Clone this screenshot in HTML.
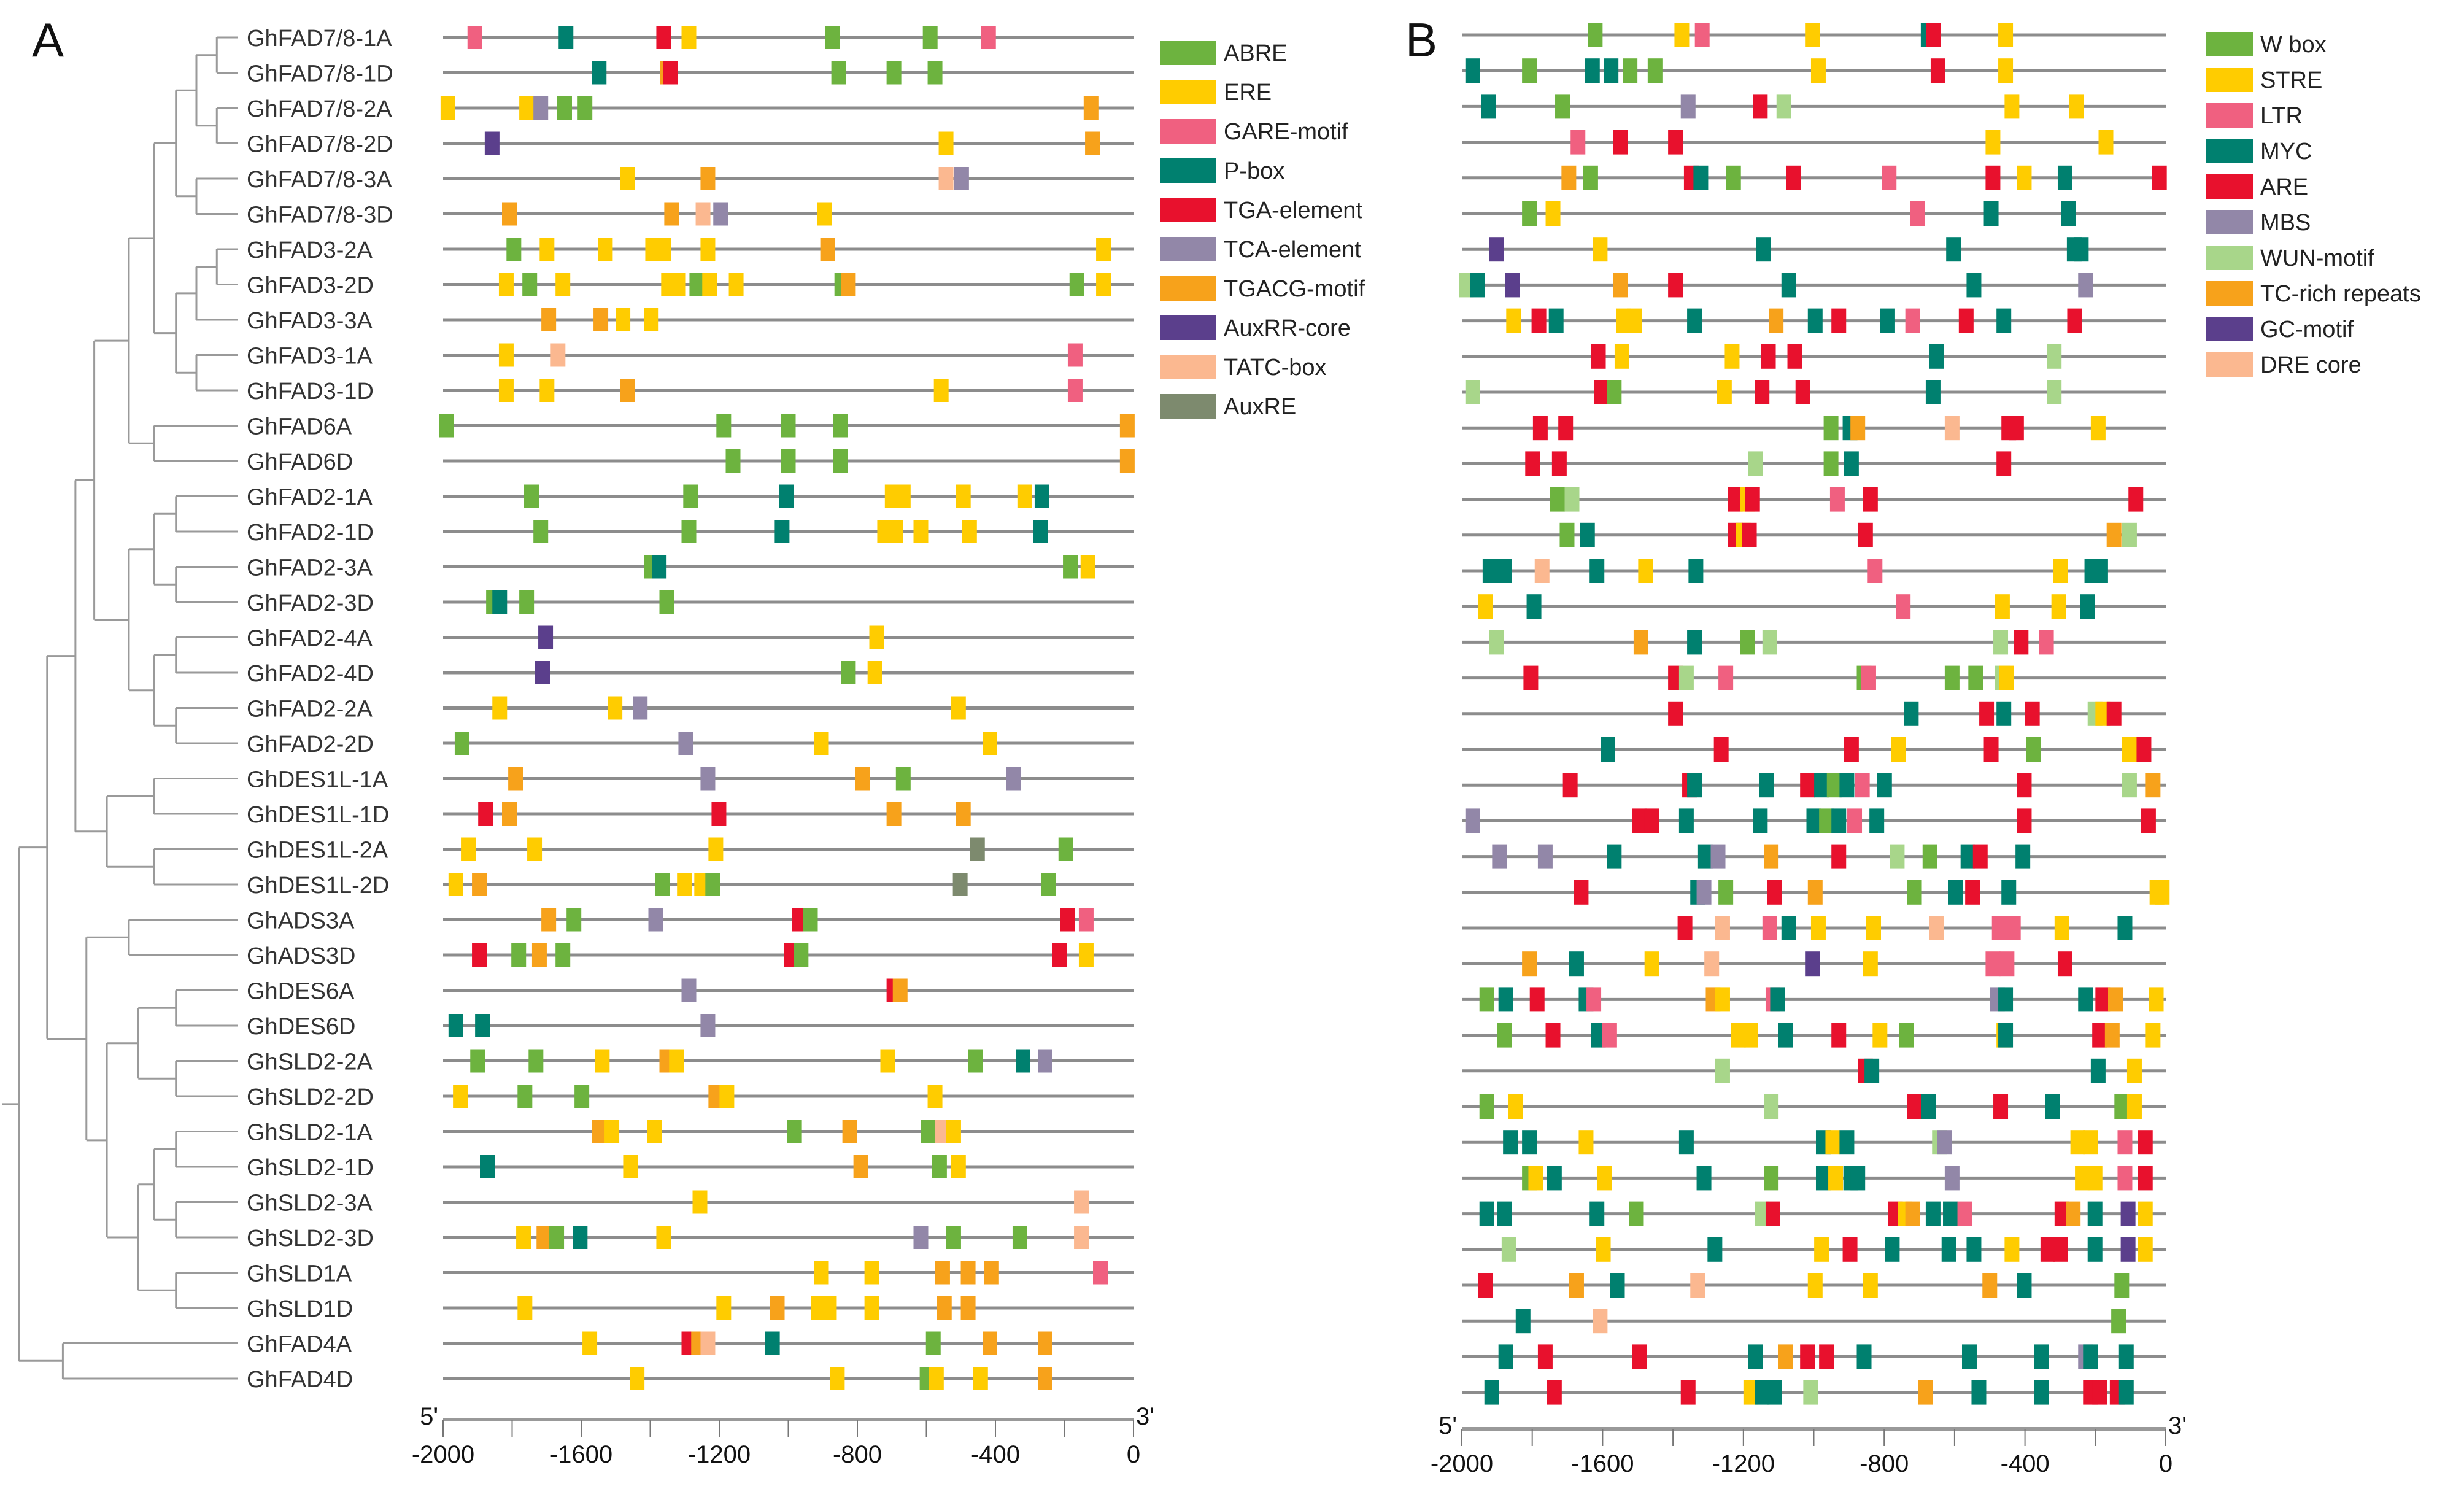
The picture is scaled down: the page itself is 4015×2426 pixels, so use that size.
<!DOCTYPE html>
<html><head><meta charset="utf-8"><style>
html,body{margin:0;padding:0;background:#fff;}
svg{display:block;font-family:"Liberation Sans",Arial,sans-serif;}
</style></head><body>
<svg id="fig" width="4015" height="2426" viewBox="0 0 4015 2426" xmlns="http://www.w3.org/2000/svg">
<text x="52" y="92" font-size="78" fill="#111">A</text>
<text x="2290" y="92" font-size="78" fill="#111">B</text>
<g id="gA"></g>
<g id="gB"></g>
</svg>
<script>
const genes = ["GhFAD7/8-1A","GhFAD7/8-1D","GhFAD7/8-2A","GhFAD7/8-2D","GhFAD7/8-3A","GhFAD7/8-3D","GhFAD3-2A","GhFAD3-2D","GhFAD3-3A","GhFAD3-1A","GhFAD3-1D","GhFAD6A","GhFAD6D","GhFAD2-1A","GhFAD2-1D","GhFAD2-3A","GhFAD2-3D","GhFAD2-4A","GhFAD2-4D","GhFAD2-2A","GhFAD2-2D","GhDES1L-1A","GhDES1L-1D","GhDES1L-2A","GhDES1L-2D","GhADS3A","GhADS3D","GhDES6A","GhDES6D","GhSLD2-2A","GhSLD2-2D","GhSLD2-1A","GhSLD2-1D","GhSLD2-3A","GhSLD2-3D","GhSLD1A","GhSLD1D","GhFAD4A","GhFAD4D"];
const tickLabels = ["-2000","-1600","-1200","-800","-400","0"];
const tickValues = [-2000,-1800,-1600,-1400,-1200,-1000,-800,-600,-400,-200,0];
const legendA = [["ab","ABRE"],["er","ERE"],["ga","GARE-motif"],["pb","P-box"],["tg","TGA-element"],["tc","TCA-element"],["tgacg","TGACG-motif"],["aux","AuxRR-core"],["ta","TATC-box"],["are","AuxRE"]];
const legendB = [["wb","W box"],["st","STRE"],["ltr","LTR"],["myc","MYC"],["ar","ARE"],["mbs","MBS"],["wun","WUN-motif"],["tcr","TC-rich repeats"],["gc","GC-motif"],["dre","DRE core"]];
const colors = {ab:"#6db33f",er:"#ffcc00",ga:"#f06080",pb:"#00806f",tg:"#e8112d",tc:"#9287a8",tgacg:"#f7a21b",aux:"#5b3f8c",ta:"#fbb890",are:"#7d8a6e",
 wb:"#6db33f",st:"#ffcc00",ltr:"#f06080",myc:"#00806f",ar:"#e8112d",mbs:"#9287a8",wun:"#a8d68a",tcr:"#f7a21b",gc:"#5b3f8c",dre:"#fbb890"};
const rowsA = [
[[-1908,"ga"],[-1644,"pb"],[-1361,"tg"],[-1288,"er"],[-872,"ab"],[-589,"ab"],[-420,"ga"]],
[[-1548,"pb"],[-1350,"tgacg"],[-1342,"tg"],[-854,"ab"],[-694,"ab"],[-575,"ab"]],
[[-1986,"er"],[-1758,"er"],[-1717,"tc"],[-1648,"ab"],[-1589,"ab"],[-123,"tgacg"]],
[[-1858,"aux"],[-543,"er"],[-119,"tgacg"]],
[[-1466,"er"],[-1233,"tgacg"],[-543,"ta"],[-498,"tc"]],
[[-1808,"tgacg"],[-1338,"tgacg"],[-1247,"ta"],[-1196,"tc"],[-895,"er"]],
[[-1795,"ab"],[-1699,"er"],[-1530,"er"],[-1393,"er"],[-1361,"er"],[-1233,"er"],[-886,"tgacg"],[-87,"er"]],
[[-1817,"er"],[-1749,"ab"],[-1653,"er"],[-1347,"er"],[-1320,"er"],[-1265,"ab"],[-1228,"er"],[-1151,"er"],[-845,"ab"],[-826,"tgacg"],[-164,"ab"],[-87,"er"]],
[[-1694,"tgacg"],[-1543,"tgacg"],[-1479,"er"],[-1397,"er"]],
[[-1817,"er"],[-1667,"ta"],[-169,"ga"]],
[[-1817,"er"],[-1699,"er"],[-1466,"tgacg"],[-557,"er"],[-169,"ga"]],
[[-1991,"ab"],[-1187,"ab"],[-1000,"ab"],[-849,"ab"],[-18,"tgacg"]],
[[-1160,"ab"],[-1000,"ab"],[-849,"ab"],[-18,"tgacg"]],
[[-1744,"ab"],[-1283,"ab"],[-1005,"pb"],[-699,"er"],[-667,"er"],[-493,"er"],[-315,"er"],[-265,"pb"]],
[[-1717,"ab"],[-1288,"ab"],[-1018,"pb"],[-721,"er"],[-689,"er"],[-616,"er"],[-475,"er"],[-269,"pb"]],
[[-1397,"ab"],[-1374,"pb"],[-183,"ab"],[-132,"er"]],
[[-1854,"ab"],[-1836,"pb"],[-1758,"ab"],[-1352,"ab"]],
[[-1703,"aux"],[-744,"er"]],
[[-1712,"aux"],[-826,"ab"],[-749,"er"]],
[[-1836,"er"],[-1502,"er"],[-1429,"tc"],[-507,"er"]],
[[-1945,"ab"],[-1297,"tc"],[-904,"er"],[-416,"er"]],
[[-1790,"tgacg"],[-1233,"tc"],[-785,"tgacg"],[-667,"ab"],[-347,"tc"]],
[[-1877,"tg"],[-1808,"tgacg"],[-1201,"tg"],[-694,"tgacg"],[-493,"tgacg"]],
[[-1927,"er"],[-1735,"er"],[-1210,"er"],[-452,"are"],[-196,"ab"]],
[[-1963,"er"],[-1895,"tgacg"],[-1365,"ab"],[-1301,"er"],[-1251,"er"],[-1219,"ab"],[-502,"are"],[-247,"ab"]],
[[-1694,"tgacg"],[-1621,"ab"],[-1384,"tc"],[-968,"tg"],[-936,"ab"],[-192,"tg"],[-137,"ga"]],
[[-1895,"tg"],[-1781,"ab"],[-1721,"tgacg"],[-1653,"ab"],[-991,"tg"],[-963,"ab"],[-215,"tg"],[-137,"er"]],
[[-1288,"tc"],[-694,"tg"],[-676,"tgacg"]],
[[-1963,"pb"],[-1886,"pb"],[-1233,"tc"]],
[[-1900,"ab"],[-1731,"ab"],[-1539,"er"],[-1352,"tgacg"],[-1324,"er"],[-712,"er"],[-457,"ab"],[-320,"pb"],[-256,"tc"]],
[[-1950,"er"],[-1763,"ab"],[-1598,"ab"],[-1210,"tgacg"],[-1178,"er"],[-575,"er"]],
[[-1548,"tgacg"],[-1511,"er"],[-1388,"er"],[-982,"ab"],[-822,"tgacg"],[-594,"ab"],[-553,"ta"],[-521,"er"]],
[[-1872,"pb"],[-1457,"er"],[-790,"tgacg"],[-562,"ab"],[-507,"er"]],
[[-1256,"er"],[-151,"ta"]],
[[-1767,"er"],[-1708,"tgacg"],[-1671,"ab"],[-1603,"pb"],[-1361,"er"],[-616,"tc"],[-521,"ab"],[-329,"ab"],[-151,"ta"]],
[[-904,"er"],[-758,"er"],[-553,"tgacg"],[-479,"tgacg"],[-411,"tgacg"],[-96,"ga"]],
[[-1763,"er"],[-1187,"er"],[-1032,"tgacg"],[-913,"er"],[-881,"er"],[-758,"er"],[-548,"tgacg"],[-479,"tgacg"]],
[[-1575,"er"],[-1288,"tg"],[-1260,"tgacg"],[-1233,"ta"],[-1046,"pb"],[-580,"ab"],[-416,"tgacg"],[-256,"tgacg"]],
[[-1438,"er"],[-858,"er"],[-598,"ab"],[-571,"er"],[-443,"er"],[-256,"tgacg"]]
];
const rowsB = [
[[-1621,"wb"],[-1375,"st"],[-1317,"ltr"],[-1004,"st"],[-675,"myc"],[-660,"ar"],[-455,"st"]],
[[-1969,"myc"],[-1808,"wb"],[-1629,"myc"],[-1576,"myc"],[-1522,"wb"],[-1451,"wb"],[-987,"st"],[-647,"ar"],[-455,"st"]],
[[-1924,"myc"],[-1714,"wb"],[-1357,"mbs"],[-1152,"ar"],[-1085,"wun"],[-437,"st"],[-254,"st"]],
[[-1670,"ltr"],[-1549,"ar"],[-1393,"ar"],[-491,"st"],[-170,"st"]],
[[-1696,"tcr"],[-1634,"wb"],[-1348,"ar"],[-1321,"myc"],[-1228,"wb"],[-1058,"ar"],[-786,"ltr"],[-491,"ar"],[-402,"st"],[-286,"myc"],[-18,"ar"]],
[[-1808,"wb"],[-1741,"st"],[-705,"ltr"],[-496,"myc"],[-277,"myc"]],
[[-1902,"gc"],[-1607,"st"],[-1143,"myc"],[-603,"myc"],[-260,"myc"],[-240,"myc"]],
[[-1987,"wun"],[-1955,"myc"],[-1857,"gc"],[-1549,"tcr"],[-1393,"ar"],[-1071,"myc"],[-545,"myc"],[-228,"mbs"]],
[[-1853,"st"],[-1781,"ar"],[-1732,"myc"],[-1540,"st"],[-1510,"st"],[-1339,"myc"],[-1107,"tcr"],[-996,"myc"],[-929,"ar"],[-790,"myc"],[-719,"ltr"],[-567,"ar"],[-460,"myc"],[-259,"ar"]],
[[-1612,"ar"],[-1545,"st"],[-1232,"st"],[-1129,"ar"],[-1054,"ar"],[-652,"myc"],[-317,"wun"]],
[[-1969,"wun"],[-1603,"ar"],[-1567,"wb"],[-1254,"st"],[-1147,"ar"],[-1031,"ar"],[-661,"myc"],[-317,"wun"]],
[[-1777,"ar"],[-1705,"ar"],[-951,"wb"],[-897,"myc"],[-875,"tcr"],[-607,"dre"],[-446,"ar"],[-424,"ar"],[-192,"st"]],
[[-1799,"ar"],[-1723,"ar"],[-1165,"wun"],[-951,"wb"],[-893,"myc"],[-460,"ar"]],
[[-1728,"wb"],[-1687,"wun"],[-1223,"ar"],[-1188,"st"],[-1174,"ar"],[-933,"ltr"],[-839,"ar"],[-85,"ar"]],
[[-1701,"wb"],[-1643,"myc"],[-1223,"ar"],[-1200,"st"],[-1183,"ar"],[-853,"ar"],[-147,"tcr"],[-103,"wun"]],
[[-1920,"myc"],[-1879,"myc"],[-1772,"dre"],[-1616,"myc"],[-1478,"st"],[-1335,"myc"],[-826,"ltr"],[-299,"st"],[-210,"myc"],[-185,"myc"]],
[[-1933,"st"],[-1795,"myc"],[-746,"ltr"],[-464,"st"],[-304,"st"],[-223,"myc"]],
[[-1902,"wun"],[-1491,"tcr"],[-1339,"myc"],[-1188,"wb"],[-1125,"wun"],[-469,"wun"],[-411,"ar"],[-339,"ltr"]],
[[-1804,"ar"],[-1393,"ar"],[-1362,"wun"],[-1250,"ltr"],[-857,"wb"],[-844,"ltr"],[-607,"wb"],[-540,"wb"],[-464,"wun"],[-452,"st"]],
[[-1393,"ar"],[-723,"myc"],[-509,"ar"],[-460,"myc"],[-379,"ar"],[-201,"wun"],[-179,"st"],[-147,"ar"]],
[[-1585,"myc"],[-1263,"ar"],[-893,"ar"],[-759,"st"],[-496,"ar"],[-375,"wb"],[-103,"st"],[-62,"ar"]],
[[-1692,"ar"],[-1353,"ar"],[-1339,"myc"],[-1134,"myc"],[-1018,"ar"],[-978,"myc"],[-942,"wb"],[-906,"myc"],[-862,"ltr"],[-799,"myc"],[-402,"ar"],[-103,"wun"],[-36,"tcr"]],
[[-1969,"mbs"],[-1496,"ar"],[-1460,"ar"],[-1362,"myc"],[-1152,"myc"],[-1000,"myc"],[-964,"wb"],[-929,"myc"],[-884,"ltr"],[-821,"myc"],[-402,"ar"],[-49,"ar"]],
[[-1893,"mbs"],[-1763,"mbs"],[-1567,"myc"],[-1308,"myc"],[-1272,"mbs"],[-1121,"tcr"],[-929,"ar"],[-763,"wun"],[-670,"wb"],[-562,"myc"],[-527,"ar"],[-406,"myc"]],
[[-1661,"ar"],[-1330,"myc"],[-1312,"mbs"],[-1250,"wb"],[-1112,"ar"],[-996,"tcr"],[-714,"wb"],[-598,"myc"],[-549,"ar"],[-446,"myc"],[-25,"st"],[-10,"st"]],
[[-1366,"ar"],[-1259,"dre"],[-1125,"ltr"],[-1071,"myc"],[-987,"st"],[-830,"st"],[-652,"dre"],[-473,"ltr"],[-433,"ltr"],[-295,"st"],[-116,"myc"]],
[[-1808,"tcr"],[-1674,"myc"],[-1460,"st"],[-1290,"dre"],[-1004,"gc"],[-839,"st"],[-491,"ltr"],[-451,"ltr"],[-286,"ar"]],
[[-1929,"wb"],[-1875,"myc"],[-1786,"ar"],[-1647,"myc"],[-1625,"ltr"],[-1286,"tcr"],[-1259,"st"],[-1116,"ltr"],[-1103,"myc"],[-478,"mbs"],[-455,"myc"],[-228,"myc"],[-179,"ar"],[-143,"tcr"],[-27,"st"]],
[[-1879,"wb"],[-1741,"ar"],[-1612,"myc"],[-1580,"ltr"],[-1214,"st"],[-1179,"st"],[-1080,"myc"],[-929,"ar"],[-812,"st"],[-737,"wb"],[-460,"st"],[-455,"myc"],[-188,"ar"],[-152,"tcr"],[-36,"st"]],
[[-1259,"wun"],[-853,"ar"],[-835,"myc"],[-192,"myc"],[-89,"st"]],
[[-1929,"wb"],[-1848,"st"],[-1121,"wun"],[-714,"ar"],[-674,"myc"],[-469,"ar"],[-321,"myc"],[-125,"wb"],[-89,"st"]],
[[-1862,"myc"],[-1808,"myc"],[-1647,"st"],[-1362,"myc"],[-973,"myc"],[-946,"st"],[-906,"myc"],[-643,"wun"],[-629,"mbs"],[-250,"st"],[-214,"st"],[-116,"ltr"],[-58,"ar"]],
[[-1808,"wb"],[-1790,"st"],[-1737,"myc"],[-1594,"st"],[-1312,"myc"],[-1121,"wb"],[-973,"myc"],[-938,"st"],[-895,"myc"],[-875,"myc"],[-607,"mbs"],[-237,"st"],[-201,"st"],[-116,"ltr"],[-58,"ar"]],
[[-1929,"myc"],[-1879,"myc"],[-1616,"myc"],[-1504,"wb"],[-1147,"wun"],[-1116,"ar"],[-768,"ar"],[-741,"st"],[-719,"tcr"],[-661,"myc"],[-612,"myc"],[-571,"ltr"],[-295,"ar"],[-263,"tcr"],[-201,"myc"],[-107,"gc"],[-58,"st"]],
[[-1866,"wun"],[-1598,"st"],[-1281,"myc"],[-978,"st"],[-897,"ar"],[-777,"myc"],[-616,"myc"],[-545,"myc"],[-437,"st"],[-335,"ar"],[-299,"ar"],[-201,"myc"],[-107,"gc"],[-58,"st"]],
[[-1933,"ar"],[-1674,"tcr"],[-1558,"myc"],[-1330,"dre"],[-996,"st"],[-839,"st"],[-500,"tcr"],[-402,"myc"],[-125,"wb"]],
[[-1826,"myc"],[-1607,"dre"],[-134,"wb"]],
[[-1875,"myc"],[-1763,"ar"],[-1496,"ar"],[-1165,"myc"],[-1080,"tcr"],[-1018,"ar"],[-964,"ar"],[-857,"myc"],[-558,"myc"],[-353,"myc"],[-228,"mbs"],[-214,"myc"],[-112,"myc"]],
[[-1915,"myc"],[-1737,"ar"],[-1357,"ar"],[-1179,"st"],[-1147,"myc"],[-1112,"myc"],[-1009,"wun"],[-683,"tcr"],[-531,"myc"],[-353,"myc"],[-214,"ar"],[-188,"ar"],[-138,"ar"],[-112,"myc"]]
];

const NS="http://www.w3.org/2000/svg";
function mk(parent,tag,attrs){const e=document.createElementNS(NS,tag);for(const k in attrs)e.setAttribute(k,attrs[k]);parent.appendChild(e);return e;}

function drawPanel(g, rows, cfg){
  const xs = v => cfg.x0 + (v+2000)/2000*(cfg.x1-cfg.x0);
  const ys = i => cfg.y0 + i*cfg.dy;
  rows.forEach((row,i)=>{
    const ln = mk(g,"line",{x1:xs(-2000),x2:xs(0),y1:ys(i),y2:ys(i),stroke:"#8c8c8c","stroke-width":5});
    
    
    row.forEach(d=>{
      const r = mk(g,"rect",{x:xs(d[0])-cfg.bw/2,y:ys(i)-cfg.bh/2,width:cfg.bw,height:cfg.bh,fill:colors[d[1]]});
      
      
    });
  });
  // axis
  const ay = cfg.axisY;
  const ax = mk(g,"line",{x1:xs(-2000),x2:xs(0),y1:ay,y2:ay,stroke:"#999","stroke-width":6});
  
  
  tickValues.forEach(v=>{
    const t = mk(g,"line",{x1:xs(v),x2:xs(v),y1:ay,y2:ay+28,stroke:"#777","stroke-width":2});
    
    
  });
  tickLabels.forEach(s=>{
    const t = mk(g,"text",{x:xs(+s),y:ay+70,"font-size":40,"text-anchor":"middle",fill:"#111"});
    t.textContent=s;
    
    
  });
  const p5 = mk(g,"text",{x:xs(-2000)-8,y:ay+8,"font-size":40,"text-anchor":"end",fill:"#111"});
  p5.textContent="5'";
  
  
  const p3 = mk(g,"text",{x:xs(0)+4,y:ay+8,"font-size":40,fill:"#111"});
  p3.textContent="3'";
  
  
  // legend
  cfg.legend.forEach((l,i)=>{
    const y = cfg.ly + i*cfg.ldy;
    const r = mk(g,"rect",{x:cfg.lx,y:y-cfg.lh/2,width:cfg.lw,height:cfg.lh,fill:colors[l[0]]});
    
    
    const t = mk(g,"text",{x:cfg.lx+cfg.lw+12,y:y+13,"font-size":38,fill:"#222"});
    t.textContent=l[1];
    
    
  });
  return ys;
}

const gA=document.getElementById("gA"), gB=document.getElementById("gB");
const ysA = drawPanel(gA, rowsA, {x0:722,x1:1847,y0:61,dy:57.5,bw:24,bh:38,axisY:2313,legend:legendA,lx:1890,ly:86,ldy:64,lw:92,lh:40});
drawPanel(gB, rowsB, {x0:2382,x1:3529,y0:57,dy:58.2,bw:24,bh:40,axisY:2328,legend:legendB,lx:3595,ly:72,ldy:58,lw:76,lh:40});

// gene labels
genes.forEach((n,i)=>{
  const t = mk(gA,"text",{x:402,y:ysA(i)+14,"font-size":38,fill:"#333"});
  t.textContent=n;
  
  
});

// dendrogram (display coords x scaled by 2.56)
const S=2.56, LEAF=388;
const tree = [12,[[30,[[48,[[60,[[82,[[98,[[112,[[125,[[138,[0,1]],[138,[2,3]]]],[125,[4,5]]]],[112,[[125,[[138,[6,7]],8]],[125,[9,10]]]]]],[98,[11,12]]]],[82,[[98,[[112,[13,14]],[112,[15,16]]]],[98,[[112,[17,18]],[112,[19,20]]]]]]]],[68,[[98,[21,22]],[98,[23,24]]]]]],[55,[[82,[25,26]],[68,[[88,[[112,[27,28]],[112,[29,30]]]],[88,[[98,[[112,[31,32]],[112,[33,34]]]],[112,[35,36]]]]]]]]]],[40,[37,38]]]];
function drawTree(node){
  if(typeof node==="number"){return ysA(node);}
  const x=node[0]*S;
  const ys=node[1].map(c=>{
    const y=drawTree(c);
    const cx = typeof c==="number"?LEAF:c[0]*S;
    const h=mk(gA,"line",{x1:x,x2:cx,y1:y,y2:y,stroke:"#9a9a9a","stroke-width":3});
    
    
    return y;
  });
  const v=mk(gA,"line",{x1:x,x2:x,y1:Math.min(...ys),y2:Math.max(...ys),stroke:"#9a9a9a","stroke-width":3});
  
  
  return (Math.min(...ys)+Math.max(...ys))/2;
}
const ry=drawTree(tree);
const rl=mk(gA,"line",{x1:4,x2:12*S,y1:ry,y2:ry,stroke:"#9a9a9a","stroke-width":3});


</script>
</body></html>
